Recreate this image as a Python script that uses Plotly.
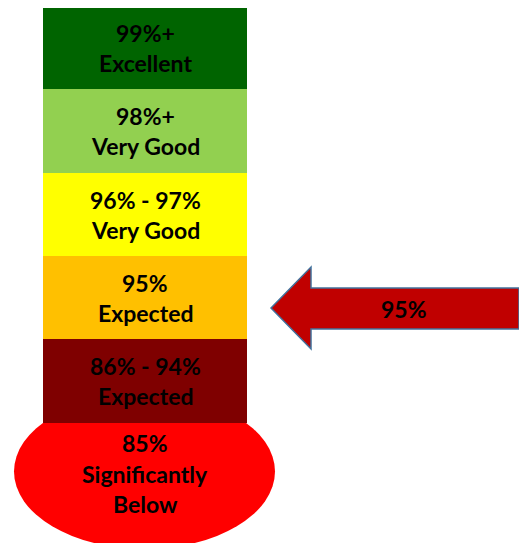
import plotly.graph_objects as go

# Band labels (top to bottom)
line1 = ["99%+", "98%+", "96% - 97%", "95%", "86% - 94%"]
line2 = ["Excellent", "Very Good", "Very Good", "Expected", "Expected"]
band_colors = ["#006400", "#92D050", "#FFFF00", "#FFC000", "#7F0000"]
band_edges = [6, 89, 173, 256, 339, 423]   # pixel-space band boundaries

bulb_lines = ["85%", "Significantly", "Below"]
bulb_color = "#FF0000"

current_value = "95%"
arrow_color = "#C00000"
arrow_outline = "#41719C"

FONT = "Lato"
fs = 23
PAD = 8  # page body margin

fig = go.Figure()

shapes = []
annotations = []

shapes.append(dict(type="circle", xref="x", yref="y", x0=14, x1=275, y0=394, y1=549,
                   fillcolor=bulb_color, line=dict(width=0), layer="below"))

for i, c in enumerate(band_colors):
    y0, y1 = band_edges[i], band_edges[i + 1]
    shapes.append(dict(type="rect", xref="x", yref="y", x0=43, x1=247, y0=y0, y1=y1,
                       fillcolor=c, line=dict(width=0), layer="below"))
    yc = (y0 + y1) / 2
    annotations.append(dict(x=145, y=yc - 15, text="<b>%s</b>" % line1[i], showarrow=False,
                            font=dict(family=FONT, size=fs, color="black"), xref="x", yref="y"))
    annotations.append(dict(x=145, y=yc + 15, text="<b>%s</b>" % line2[i], showarrow=False,
                            font=dict(family=FONT, size=fs, color="black"), xref="x", yref="y"))

for j, t in enumerate(bulb_lines):
    annotations.append(dict(x=145, y=443 + 30.5 * j, text="<b>%s</b>" % t, showarrow=False,
                            font=dict(family=FONT, size=fs, color="black"), xref="x", yref="y"))

path = "M 271 308 L 311 267 L 311 288 L 519 288 L 519 329 L 311 329 L 311 349 Z"
shapes.append(dict(type="path", xref="x", yref="y", path=path, fillcolor=arrow_color,
                   line=dict(color=arrow_outline, width=1.5)))
annotations.append(dict(x=404, y=309, text="<b>%s</b>" % current_value, showarrow=False,
                        font=dict(family=FONT, size=fs, color="black"), xref="x", yref="y"))

fig.add_trace(go.Scatter(x=[PAD, 527], y=[PAD, 543], mode="markers", marker=dict(opacity=0),
                         hoverinfo="skip", showlegend=False))

fig.update_layout(
    width=527 - PAD, height=543 - PAD,
    margin=dict(l=0, r=0, t=0, b=0),
    paper_bgcolor="white", plot_bgcolor="white",
    xaxis=dict(range=[PAD, 527], visible=False, fixedrange=True),
    yaxis=dict(range=[543, PAD], visible=False, fixedrange=True),
    shapes=shapes, annotations=annotations,
    showlegend=False,
)

fig.write_html("out.html", config={"displayModeBar": False})
